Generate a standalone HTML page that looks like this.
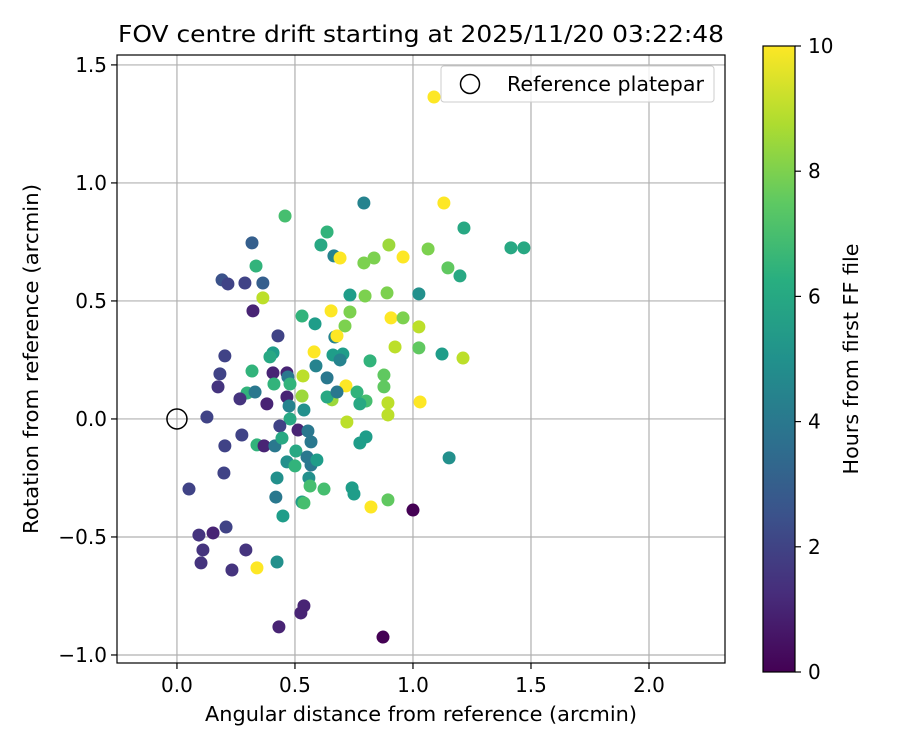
<!DOCTYPE html>
<html><head><meta charset="utf-8"><style>
body{margin:0;background:#fff;}
svg text{font-family:"DejaVu Sans","Liberation Sans",sans-serif;fill:#000;}
</style></head><body>
<svg id="chart" width="900" height="750" xmlns="http://www.w3.org/2000/svg">
<defs><linearGradient id="vir" x1="0" y1="1" x2="0" y2="0">
<stop offset="0" stop-color="#440154"/><stop offset="0.125" stop-color="#472d7b"/><stop offset="0.25" stop-color="#3b528b"/><stop offset="0.375" stop-color="#2c728e"/><stop offset="0.5" stop-color="#21918c"/><stop offset="0.625" stop-color="#28ae80"/><stop offset="0.75" stop-color="#5ec962"/><stop offset="0.875" stop-color="#addc30"/><stop offset="1" stop-color="#fde725"/>
</linearGradient></defs>
<text x="421" y="42" font-size="23" text-anchor="middle" textLength="606" lengthAdjust="spacingAndGlyphs">FOV centre drift starting at 2025/11/20 03:22:48</text>
<g id="grid"></g><g id="pts"></g><g id="axes"></g>
</svg>
<script>
const xTicks=[0.0,0.5,1.0,1.5,2.0];
const yTicks=[-1.0,-0.5,0.0,0.5,1.0,1.5];
const cbTicks=[0,2,4,6,8,10];
const xs=[1.089,1.131,0.792,1.216,1.415,1.470,1.064,1.148,1.199,0.898,0.958,0.835,0.792,0.458,0.636,0.610,0.665,0.691,0.318,0.335,0.191,0.216,0.288,0.364,0.364,0.322,0.733,0.797,0.890,1.025,0.530,0.585,0.653,0.733,0.712,0.669,0.678,0.907,0.958,1.025,0.924,1.025,1.123,1.212,0.818,0.877,0.877,0.801,0.894,0.894,1.030,0.428,0.203,0.182,0.174,0.318,0.407,0.394,0.407,0.411,0.297,0.331,0.267,0.381,0.466,0.470,0.479,0.466,0.475,0.534,0.530,0.538,0.479,0.436,0.513,0.555,0.581,0.589,0.636,0.661,0.703,0.691,0.716,0.657,0.636,0.678,0.763,0.775,0.720,0.127,0.275,0.203,0.339,0.369,0.415,0.445,0.568,0.504,0.466,0.500,0.551,0.568,0.593,0.424,0.559,0.564,0.623,0.419,0.530,0.538,0.449,0.742,0.750,0.822,0.894,1.000,1.153,0.775,0.801,0.199,0.051,0.208,0.153,0.093,0.110,0.102,0.292,0.233,0.339,0.424,0.538,0.525,0.432,0.873];
const ys=[1.364,0.915,0.915,0.809,0.725,0.725,0.720,0.640,0.606,0.737,0.686,0.682,0.661,0.860,0.792,0.737,0.691,0.682,0.746,0.648,0.589,0.572,0.576,0.576,0.513,0.458,0.525,0.521,0.534,0.530,0.436,0.403,0.458,0.453,0.394,0.347,0.352,0.428,0.428,0.390,0.305,0.301,0.275,0.258,0.246,0.186,0.136,0.076,0.068,0.017,0.072,0.352,0.267,0.191,0.136,0.203,0.280,0.263,0.195,0.148,0.110,0.114,0.085,0.064,0.195,0.178,0.148,0.093,0.055,0.182,0.097,0.038,0.000,-0.030,-0.047,-0.051,0.284,0.225,0.174,0.271,0.275,0.250,0.140,0.081,0.093,0.114,0.114,0.064,-0.013,0.008,-0.068,-0.114,-0.110,-0.114,-0.114,-0.081,-0.097,-0.136,-0.182,-0.199,-0.161,-0.195,-0.174,-0.250,-0.250,-0.284,-0.297,-0.331,-0.352,-0.356,-0.411,-0.292,-0.318,-0.373,-0.343,-0.386,-0.165,-0.102,-0.076,-0.229,-0.297,-0.458,-0.483,-0.492,-0.555,-0.610,-0.555,-0.640,-0.631,-0.606,-0.792,-0.822,-0.881,-0.924];
const hours=[10,10,4.5,6,6,6,8,7.5,6,8.5,10,8,8,7,6.5,6,4.5,10,3,6.5,2.5,2,2,3,9,1,5.5,8,8,5,6.5,5.5,10,8,8,4.5,10,10,8,9,9,7.5,5.5,9,6.5,7.5,7.5,7,9,9,10,2,2,2,1.5,6.5,5.5,6,1,6.5,6.5,4,1.5,1,1,4,6.5,1,4.5,9,8.5,5,6,2,1,4,10,4.5,4,5.5,5.5,4.5,10,8.5,6,4,6.5,6,9,2,2,2,6.5,1,4,6,4,6,5,6.5,4,4,5.5,5,5,7,7,4,5.5,7,5.5,5.5,5.5,10,7.5,0,5,5.5,5.5,2,2,2,1,1.5,1.5,1.5,1.5,1.5,10,5,1,1,1,0];
const NS="http://www.w3.org/2000/svg";
const L=117,R=725,T=55,B=663;
const xMin=-0.254,xMax=2.322,yMin=-1.034,yMax=1.542;
const sx=v=>L+(v-xMin)/(xMax-xMin)*(R-L);
const sy=v=>B-(v-yMin)/(yMax-yMin)*(B-T);
const vir=[[68,1,84],[72,40,120],[62,74,137],[49,104,142],[38,130,142],[31,158,137],[53,183,121],[110,206,88],[181,222,43],[253,231,37]];
function cmap(h){let t=Math.max(0,Math.min(1,h/10))*(vir.length-1);let i=Math.min(vir.length-2,Math.floor(t)),f=t-i;const c=vir[i].map((a,k)=>Math.round(a+(vir[i+1][k]-a)*f));return `rgb(${c})`;}
function mk(tag,attrs,parent,text){const e=document.createElementNS(NS,tag);for(const k in attrs)e.setAttribute(k,attrs[k]);if(text!==undefined)e.textContent=text;parent.appendChild(e);return e;}
const grid=document.getElementById('grid'),pts=document.getElementById('pts'),axes=document.getElementById('axes');
const fmt=v=>(v<0?'\u2212':'')+Math.abs(v).toFixed(1);
xTicks.forEach(v=>{const x=sx(v);
const g=mk('line',{x1:x,x2:x,y1:T,y2:B,stroke:'#b0b0b0','stroke-width':1.2},grid);

mk('line',{x1:x,x2:x,y1:B,y2:B+6,stroke:'#000','stroke-width':1.2},axes);
const t=mk('text',{x:x,y:B+29,'font-size':20,'text-anchor':'middle'},axes,fmt(v));
});
yTicks.forEach(v=>{const y=sy(v);
const g=mk('line',{x1:L,x2:R,y1:y,y2:y,stroke:'#b0b0b0','stroke-width':1.2},grid);

mk('line',{x1:L-6,x2:L,y1:y,y2:y,stroke:'#000','stroke-width':1.2},axes);
const t=mk('text',{x:L-10,y:y+7,'font-size':20,'text-anchor':'end'},axes,fmt(v));
});
xs.forEach((v,i)=>{const c=mk('circle',{cx:sx(v),cy:sy(ys[i]),r:6.5,fill:cmap(hours[i])},pts);

});
const ref=mk('circle',{cx:sx(0),cy:sy(0),r:10,fill:'none',stroke:'#000','stroke-width':1.5},pts);

const fr=mk('rect',{x:L,y:T,width:R-L,height:B-T,fill:'none',stroke:'#000','stroke-width':1.2},axes);

const xl=mk('text',{x:421,y:721,'font-size':20,'text-anchor':'middle',textLength:432,lengthAdjust:'spacingAndGlyphs'},axes,'Angular distance from reference (arcmin)');

const yl=mk('text',{x:38,y:359,'font-size':20,'text-anchor':'middle',transform:'rotate(-90 38 359)',textLength:350,lengthAdjust:'spacingAndGlyphs'},axes,'Rotation from reference (arcmin)');

const lg=mk('g',{},axes);

mk('rect',{x:441,y:66,width:273,height:36,rx:3,fill:'#fff','fill-opacity':0.8,stroke:'#ccc'},lg);
mk('circle',{cx:470,cy:84,r:9.5,fill:'none',stroke:'#000','stroke-width':1.5},lg);
mk('text',{x:507,y:91,'font-size':20,textLength:197,lengthAdjust:'spacingAndGlyphs'},lg,'Reference platepar');
const CT=46,CB=672,CL=763,CR=795;
const cb=mk('rect',{x:CL,y:CT,width:CR-CL,height:CB-CT,fill:'url(#vir)',stroke:'#000','stroke-width':1.2},axes);

cbTicks.forEach(v=>{const y=CB-(v/10)*(CB-CT);
mk('line',{x1:CR,x2:CR+6,y1:y,y2:y,stroke:'#000','stroke-width':1.2},axes);
const t=mk('text',{x:CR+13,y:y+7,'font-size':20},axes,String(v));
});
const cl=mk('text',{x:858,y:359,'font-size':20,'text-anchor':'middle',transform:'rotate(-90 858 359)',textLength:231,lengthAdjust:'spacingAndGlyphs'},axes,'Hours from first FF file');

</script>
</body></html>
